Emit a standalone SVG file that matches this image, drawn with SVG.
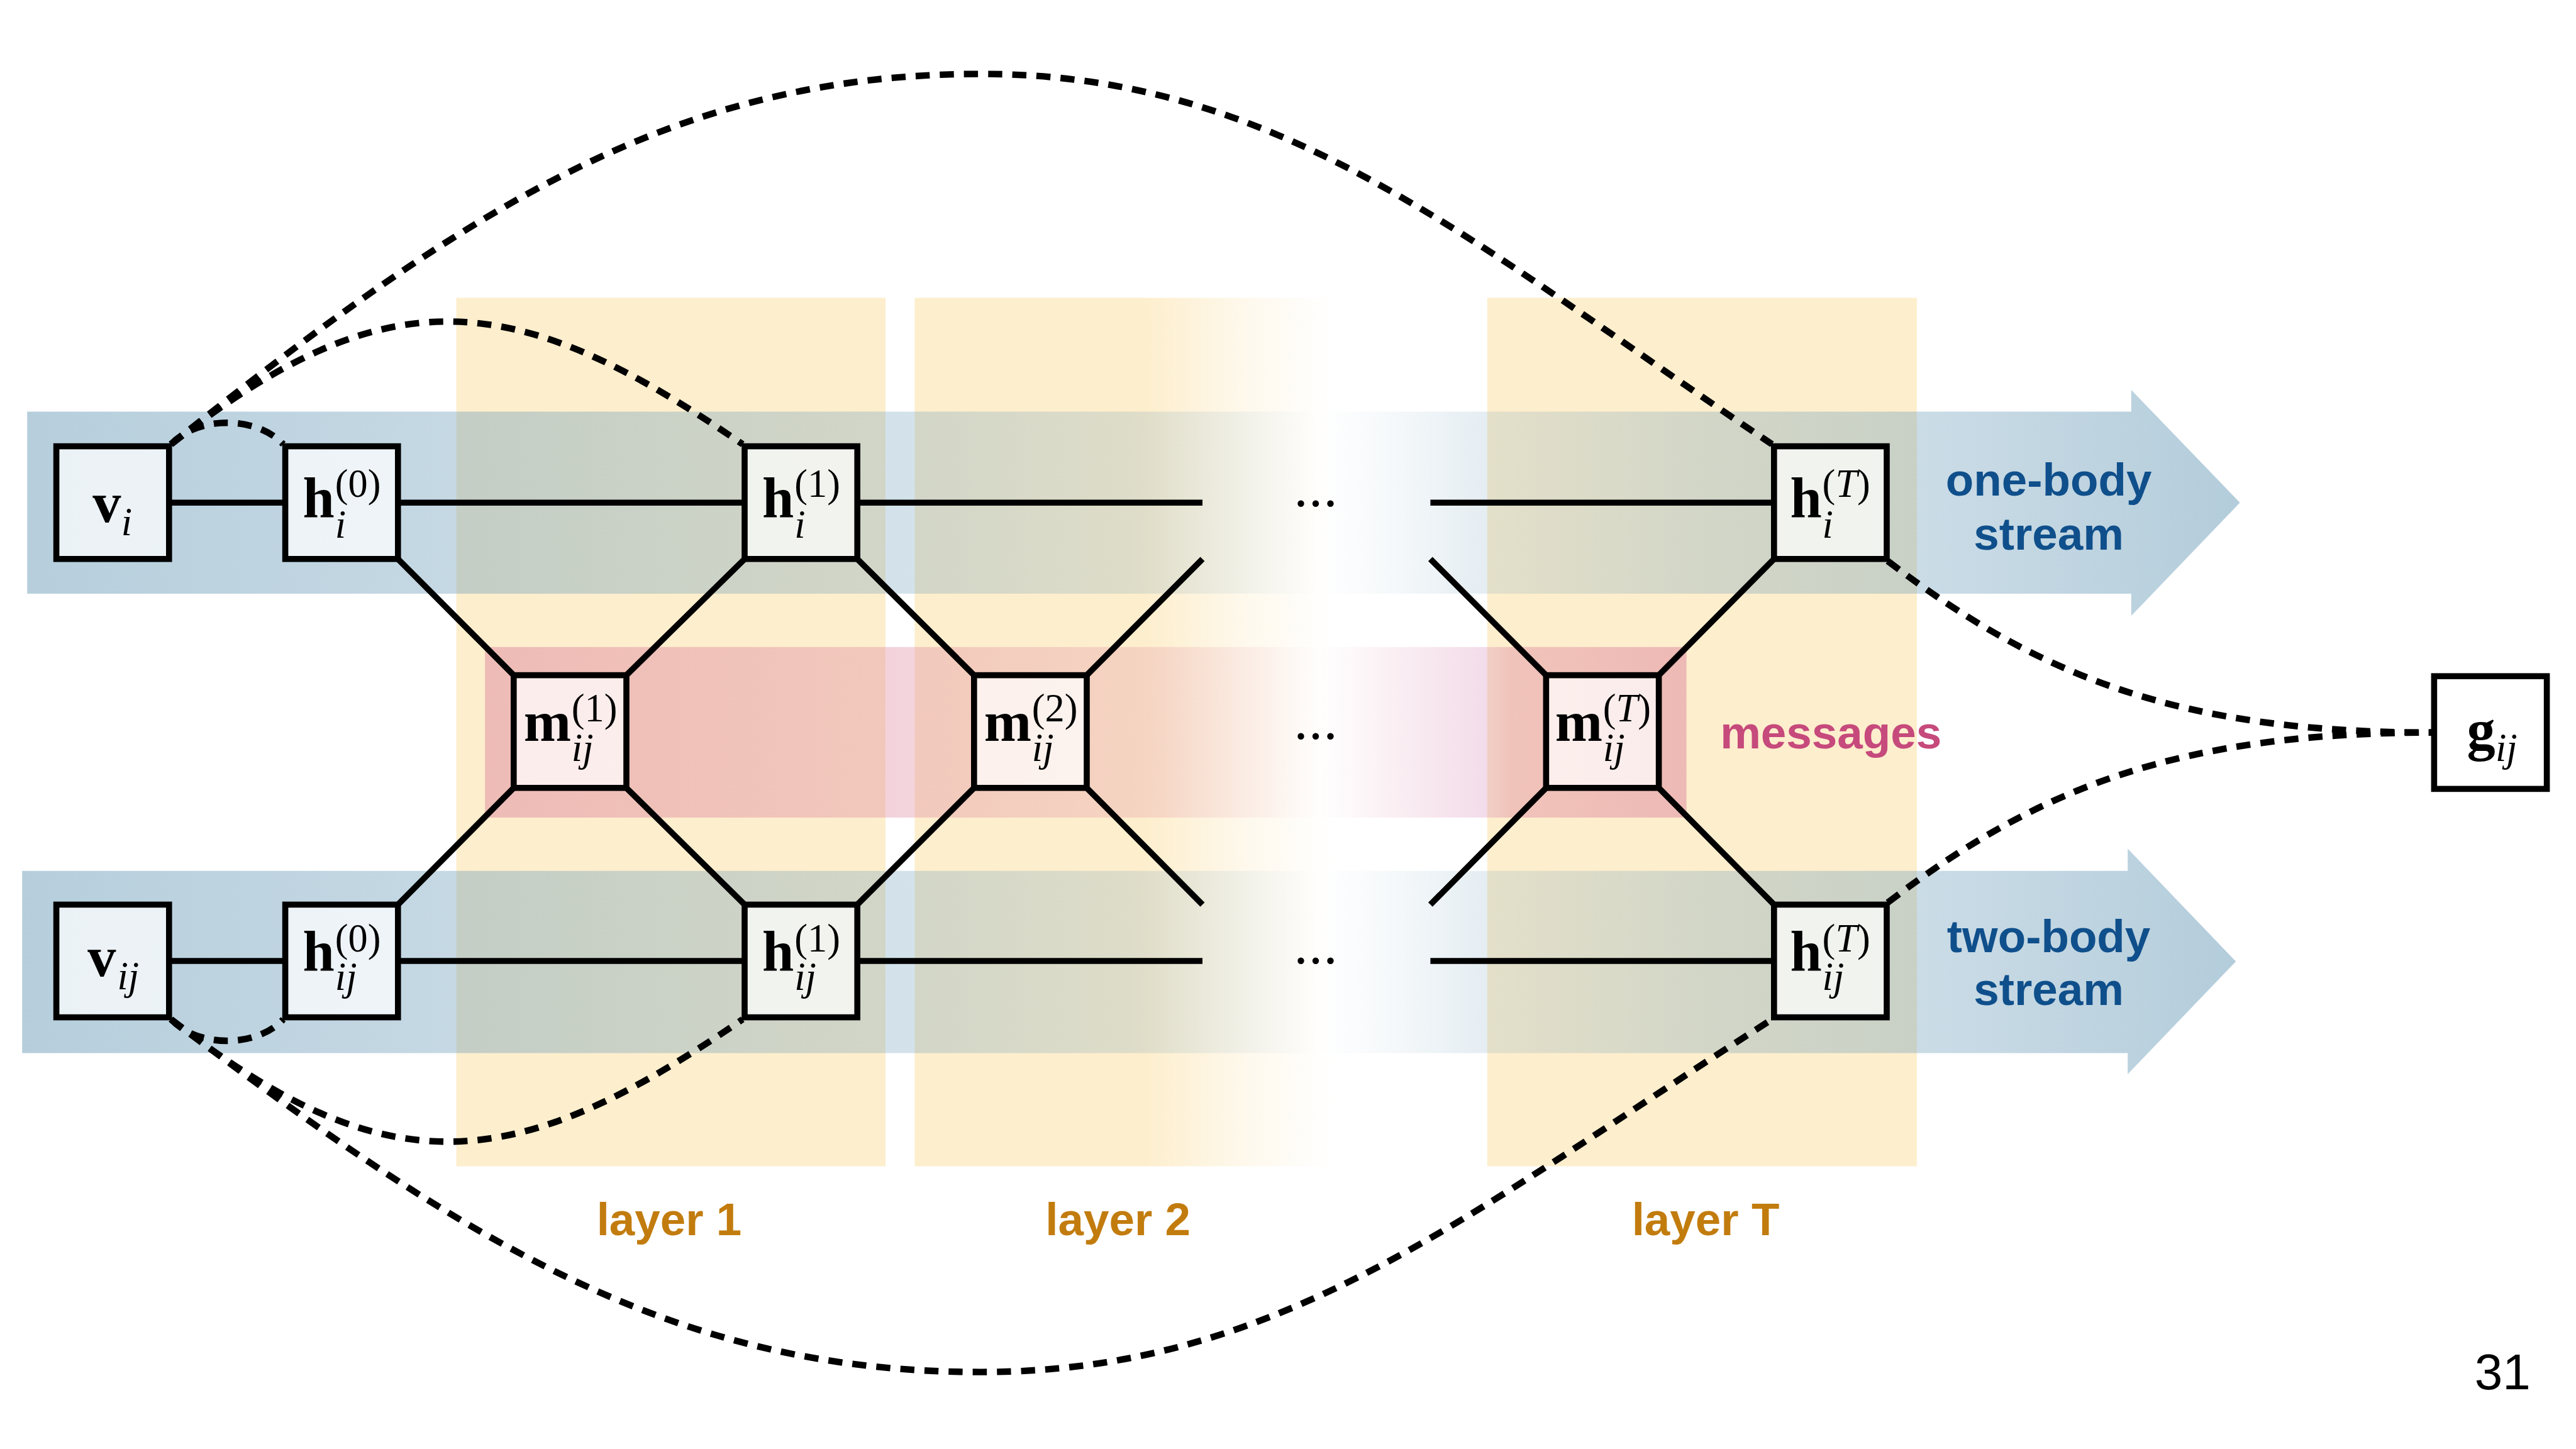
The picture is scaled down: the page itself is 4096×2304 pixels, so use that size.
<svg xmlns="http://www.w3.org/2000/svg" width="4096" height="2304" viewBox="0 0 4096 2304">
  <style>
    .box { fill: #ffffff; fill-opacity: 0.72; stroke: #000; stroke-width: 12; }
    .wire { stroke: #000; stroke-width: 12; fill: none; stroke-linecap: butt; }
    .skip { stroke: #000; stroke-width: 13; fill: none; stroke-dasharray: 28 20; }
    .mb { font-family: "Liberation Serif", "Times New Roman", serif; font-weight: bold; font-size: 113px; fill: #000; }
    .sc { font-family: "Liberation Serif", "Times New Roman", serif; font-size: 78px; fill: #000; }
    .it { font-style: italic; }
    .dots { font-family: "Liberation Serif", "Times New Roman", serif; font-size: 110px; letter-spacing: 2px; fill: #000; }
    .lbl { font-family: "Liberation Sans", Arial, sans-serif; font-weight: bold; font-size: 91px; }
    .stream { fill: #0f4f8b; }
    .layer { fill: #c27c0e; }
    .msg { fill: #c64a7c; }
  </style>
  <defs>
    <linearGradient id="streamFade" gradientUnits="userSpaceOnUse" x1="50" y1="0" x2="4450" y2="0">
      <stop offset="0" stop-color="#6e9eba" stop-opacity="0.50"/>
      <stop offset="0.192" stop-color="#6e9eba" stop-opacity="0.40"/>
      <stop offset="0.397" stop-color="#6e9eba" stop-opacity="0.30"/>
      <stop offset="0.50" stop-color="#6e9eba" stop-opacity="0.22"/>
      <stop offset="0.584" stop-color="#6e9eba" stop-opacity="0"/>
      <stop offset="0.615" stop-color="#6e9eba" stop-opacity="0.06"/>
      <stop offset="0.659" stop-color="#6e9eba" stop-opacity="0.18"/>
      <stop offset="0.761" stop-color="#6e9eba" stop-opacity="0.30"/>
      <stop offset="0.875" stop-color="#6e9eba" stop-opacity="0.38"/>
      <stop offset="1" stop-color="#6e9eba" stop-opacity="0.52"/>
    </linearGradient>
    <linearGradient id="msgFade" gradientUnits="userSpaceOnUse" x1="964" y1="0" x2="3352" y2="0">
      <stop offset="0" stop-color="#df89a0" stop-opacity="0.50"/>
      <stop offset="0.333" stop-color="#df89a0" stop-opacity="0.38"/>
      <stop offset="0.559" stop-color="#df89a0" stop-opacity="0.25"/>
      <stop offset="0.694" stop-color="#df89a0" stop-opacity="0"/>
      <stop offset="0.832" stop-color="#d78cb9" stop-opacity="0.30"/>
      <stop offset="0.853" stop-color="#df89a0" stop-opacity="0.42"/>
      <stop offset="1" stop-color="#df89a0" stop-opacity="0.52"/>
    </linearGradient>
    <linearGradient id="layerFade" gradientUnits="userSpaceOnUse" x1="1818" y1="0" x2="2650" y2="0">
      <stop offset="0" stop-color="#fdeecd" stop-opacity="1"/>
      <stop offset="0.55" stop-color="#fdeecd" stop-opacity="1"/>
      <stop offset="0.8" stop-color="#fdeecd" stop-opacity="0.35"/>
      <stop offset="1" stop-color="#fdeecd" stop-opacity="0"/>
    </linearGradient>
  </defs>

  <g transform="scale(0.8)">
    <!-- layer columns -->
    <g id="layers">
      <rect x="907" y="592" width="853" height="1726" fill="#fdeecd"/>
      <rect x="1818" y="592" width="832" height="1726" fill="url(#layerFade)"/>
      <rect x="2956" y="592" width="854" height="1726" fill="#fdeecd"/>
    </g>

    <!-- message band -->
    <rect id="message-band" x="964" y="1286" width="2388" height="339" fill="url(#msgFade)"/>

    <!-- stream arrows -->
    <g id="streams">
      <path d="M54,818 H4236 V775 L4452,999 L4236,1224 V1180 H54 Z" fill="url(#streamFade)"/>
      <path d="M44,1731 H4229 V1687 L4444,1911 L4229,2135 V2093 H44 Z" fill="url(#streamFade)"/>
    </g>

    <!-- connectors -->
    <g id="connectors">
      <!-- one-body stream wires -->
      <path class="wire" d="M336,999 H567 M791,999 H1480 M1704,999 H2390 M2843,999 H3526"/>
      <!-- two-body stream wires -->
      <path class="wire" d="M336,1910 H567 M791,1910 H1480 M1704,1910 H2390 M2843,1910 H3526"/>
      <!-- message wires -->
      <path class="wire" d="M791,1111 L1021,1342 M1245,1342 L1480,1111 M1704,1111 L1936,1342 M2160,1342 L2390,1111 M2843,1111 L3073,1342 M3297,1342 L3526,1111"/>
      <path class="wire" d="M791,1798 L1021,1566 M1245,1566 L1480,1798 M1704,1798 L1936,1566 M2160,1566 L2390,1798 M2843,1798 L3073,1566 M3297,1566 L3526,1798"/>
      <!-- skip connections -->
      <path class="skip" d="M340,883 C393,826 510,826 563,883"/>
      <path class="skip" d="M340,883 C772,544 1025,572 1476,883"/>
      <path class="skip" d="M340,883 C942,402 1350,147 1950,147 C2550,147 2924,482 3522,883"/>
      <path class="skip" d="M340,2026 C393,2083 510,2083 563,2026"/>
      <path class="skip" d="M340,2026 C772,2364 1025,2336 1476,2026"/>
      <path class="skip" d="M340,2026 C942,2482 1350,2727 1950,2727 C2550,2727 2924,2407 3522,2026"/>
      <path class="skip" d="M3752,1115 C4053,1345 4332,1456 4836,1456"/>
      <path class="skip" d="M3752,1794 C4053,1564 4332,1456 4836,1456"/>
    </g>

    <!-- ellipses for omitted layers -->
    <g id="ellipses">
      <text class="dots" x="2616" y="1006" text-anchor="middle">...</text>
      <text class="dots" x="2616" y="1469" text-anchor="middle">...</text>
      <text class="dots" x="2616" y="1915" text-anchor="middle">...</text>
    </g>

    <!-- nodes -->
    <g id="v_i">
      <rect class="box" x="112" y="887" width="224" height="224"/>
      <text class="mb" x="184" y="1038">v</text>
      <text class="sc it" x="241" y="1064">i</text>
    </g>
    <g id="h_i_0">
      <rect class="box" x="567" y="887" width="224" height="224"/>
      <text class="mb" x="602" y="1028">h</text>
      <text class="sc" x="666" y="987">(0)</text>
      <text class="sc it" x="666" y="1069">i</text>
    </g>
    <g id="h_i_1">
      <rect class="box" x="1480" y="887" width="224" height="224"/>
      <text class="mb" x="1515" y="1028">h</text>
      <text class="sc" x="1579" y="987">(1)</text>
      <text class="sc it" x="1579" y="1069">i</text>
    </g>
    <g id="h_i_T">
      <rect class="box" x="3526" y="887" width="224" height="224"/>
      <text class="mb" x="3558" y="1028">h</text>
      <text class="sc" x="3622" y="987">(<tspan class="it">T</tspan>)</text>
      <text class="sc it" x="3622" y="1069">i</text>
    </g>

    <g id="m_ij_1">
      <rect class="box" x="1021" y="1342" width="224" height="224"/>
      <text class="mb" x="1041" y="1472">m</text>
      <text class="sc" x="1136" y="1434">(1)</text>
      <text class="sc it" x="1136" y="1513">ij</text>
    </g>
    <g id="m_ij_2">
      <rect class="box" x="1936" y="1342" width="224" height="224"/>
      <text class="mb" x="1956" y="1472">m</text>
      <text class="sc" x="2051" y="1434">(2)</text>
      <text class="sc it" x="2051" y="1513">ij</text>
    </g>
    <g id="m_ij_T">
      <rect class="box" x="3073" y="1342" width="224" height="224"/>
      <text class="mb" x="3091" y="1472">m</text>
      <text class="sc" x="3186" y="1434">(<tspan class="it">T</tspan>)</text>
      <text class="sc it" x="3186" y="1513">ij</text>
    </g>

    <g id="v_ij">
      <rect class="box" x="112" y="1798" width="224" height="224"/>
      <text class="mb" x="174" y="1940">v</text>
      <text class="sc it" x="233" y="1966">ij</text>
    </g>
    <g id="h_ij_0">
      <rect class="box" x="567" y="1798" width="224" height="224"/>
      <text class="mb" x="602" y="1929">h</text>
      <text class="sc" x="666" y="1891">(0)</text>
      <text class="sc it" x="666" y="1968">ij</text>
    </g>
    <g id="h_ij_1">
      <rect class="box" x="1480" y="1798" width="224" height="224"/>
      <text class="mb" x="1515" y="1929">h</text>
      <text class="sc" x="1579" y="1891">(1)</text>
      <text class="sc it" x="1579" y="1968">ij</text>
    </g>
    <g id="h_ij_T">
      <rect class="box" x="3526" y="1798" width="224" height="224"/>
      <text class="mb" x="3558" y="1929">h</text>
      <text class="sc" x="3622" y="1891">(<tspan class="it">T</tspan>)</text>
      <text class="sc it" x="3622" y="1968">ij</text>
    </g>

    <g id="g_ij">
      <rect class="box" x="4838" y="1344" width="224" height="224"/>
      <text class="mb" x="4903" y="1490">g</text>
      <text class="sc it" x="4960" y="1513">ij</text>
    </g>

    <!-- labels -->
    <g id="labels">
      <text class="lbl stream" x="4072" y="985" text-anchor="middle">one-body</text>
      <text class="lbl stream" x="4072" y="1092" text-anchor="middle">stream</text>
      <text class="lbl stream" x="4072" y="1892" text-anchor="middle">two-body</text>
      <text class="lbl stream" x="4072" y="1998" text-anchor="middle">stream</text>
      <text class="lbl msg" x="3639" y="1487" text-anchor="middle">messages</text>
      <text class="lbl layer" x="1330" y="2455" text-anchor="middle" font-size="89">layer 1</text>
      <text class="lbl layer" x="2222" y="2455" text-anchor="middle" font-size="89">layer 2</text>
      <text class="lbl layer" x="3390" y="2455" text-anchor="middle" font-size="89">layer T</text>
      <text x="4974" y="2761" text-anchor="middle" font-family="Liberation Sans, Arial, sans-serif" font-size="100" fill="#000">31</text>
    </g>
  </g>
</svg>
